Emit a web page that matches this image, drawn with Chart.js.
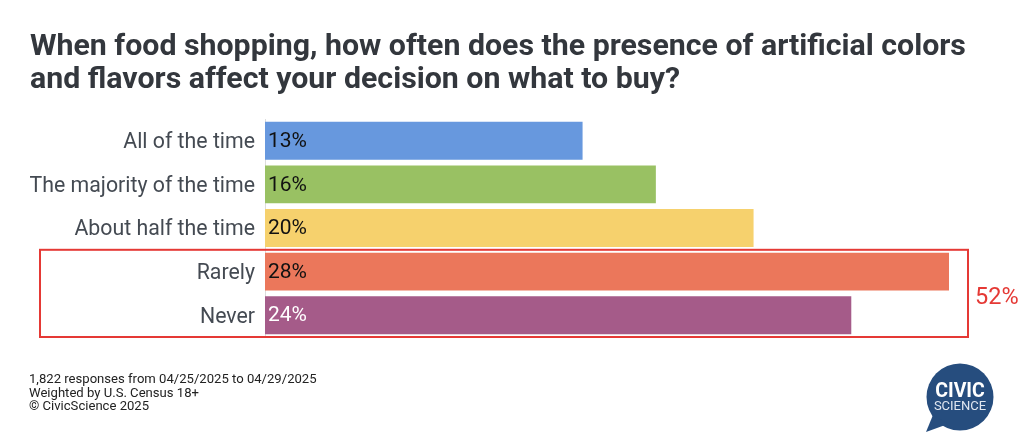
<!DOCTYPE html>
<html><head><meta charset="utf-8">
<script src="https://cdn.jsdelivr.net/npm/chart.js@4.4.1/dist/chart.umd.min.js"></script>
<style>html,body{margin:0;padding:0;background:#fff;}#wrap{width:1024px;height:448px;position:relative;}</style>
</head><body><div id="wrap"><canvas id="c" width="1024" height="448"></canvas></div>
<script>
const titleLines = ["When food shopping, how often does the presence of artificial colors", "and flavors affect your decision on what to buy?"];
const categories = ["All of the time", "The majority of the time", "About half the time", "Rarely", "Never"];
const values = [13, 16, 20, 28, 24];
const barColors = ["#6798de", "#99c163", "#f6d16d", "#eb775b", "#a55b89"];
const labelColors = ["#111111", "#111111", "#111111", "#111111", "#ffffff"];
const highlightRange = [3, 4];
const highlightLabel = "52%";
const footnotes = ["1,822 responses from 04/25/2025 to 04/29/2025", "Weighted by U.S. Census 18+", "\u00a9 CivicScience 2025"];

const FONT = "Roboto, 'Noto Sans', sans-serif";

const decor = {
  id: 'decor',
  beforeDraw(chart) {
    const ctx = chart.ctx;
    ctx.save();
    ctx.fillStyle = '#fff';
    ctx.fillRect(0, 0, chart.width, chart.height);
    ctx.restore();
  },
  afterDraw(chart) {
    const ctx = chart.ctx;
    const y = chart.scales.y, x = chart.scales.x;
    const area = chart.chartArea;
    ctx.save();
    // title
    ctx.fillStyle = '#33373d';
    ctx.font = "bold 30.3px " + FONT;
    ctx.textBaseline = 'alphabetic';
    ctx.textAlign = 'left';
    titleLines.forEach((t, i) => ctx.fillText(t, 30, 54.5 + i * 33));
    // data labels
    const meta = chart.getDatasetMeta(0);
    ctx.font = "21px " + FONT;
    ctx.textBaseline = 'middle';
    meta.data.forEach((bar, i) => {
      ctx.fillStyle = labelColors[i];
      ctx.fillText(values[i] + '%', x.getPixelForValue(0) + 3, bar.y + 1);
    });
    // highlight box
    const band = (y.bottom - y.top) / categories.length;
    const top = y.getPixelForValue(highlightRange[0]) - band / 2;
    const bot = y.getPixelForValue(highlightRange[1]) + band / 2;
    ctx.strokeStyle = '#e53935';
    ctx.lineWidth = 2;
    ctx.strokeRect(40, top, area.right + 19 - 40, bot - top);
    ctx.fillStyle = '#e53935';
    ctx.font = "23.5px " + FONT;
    ctx.textBaseline = 'middle';
    ctx.fillText(highlightLabel, 975, (top + bot) / 2 + 5);
    // footnotes
    ctx.fillStyle = '#222';
    ctx.font = "13.1px " + FONT;
    ctx.textBaseline = 'alphabetic';
    footnotes.forEach((t, i) => ctx.fillText(t, 29, 383 + i * 13.5));
    // logo
    const cx = 960, cy = 397, r = 33.5;
    ctx.fillStyle = '#264d7e';
    ctx.beginPath();
    ctx.arc(cx, cy, r, 0, Math.PI * 2);
    ctx.fill();
    ctx.beginPath();
    ctx.moveTo(933, 415);
    ctx.lineTo(926, 432);
    ctx.lineTo(948, 424);
    ctx.closePath();
    ctx.fill();
    ctx.fillStyle = '#fff';
    ctx.textAlign = 'center';
    ctx.textBaseline = 'middle';
    ctx.font = "bold 19.5px " + FONT;
    ctx.fillText("CIVIC", cx, cy - 5);
    ctx.fillStyle = '#dfe6f0';
    ctx.font = "13px " + FONT;
    ctx.fillText("SCIENCE", cx, cy + 10);
    ctx.restore();
  }
};

new Chart(document.getElementById('c'), {
  type: 'bar',
  data: {
    labels: categories,
    datasets: [{
      data: values,
      backgroundColor: barColors,
      borderWidth: 0,
      barPercentage: 0.87,
      categoryPercentage: 1
    }]
  },
  options: {
    indexAxis: 'y',
    responsive: false,
    animation: false,
    layout: { padding: { top: 119, bottom: 111, right: 75, left: 0 } },
    plugins: { legend: { display: false }, tooltip: { enabled: false } },
    scales: {
      x: { min: 0, max: 28, display: false },
      y: {
        grid: { display: false },
        border: { display: true, color: '#dcdcdc', width: 1 },
        ticks: { color: '#444a52', font: { family: FONT, size: 21.3 }, padding: 2, labelOffset: 2 },
        afterFit(scale) { scale.width = 265; }
      }
    }
  },
  plugins: [decor]
});
</script></body></html>
